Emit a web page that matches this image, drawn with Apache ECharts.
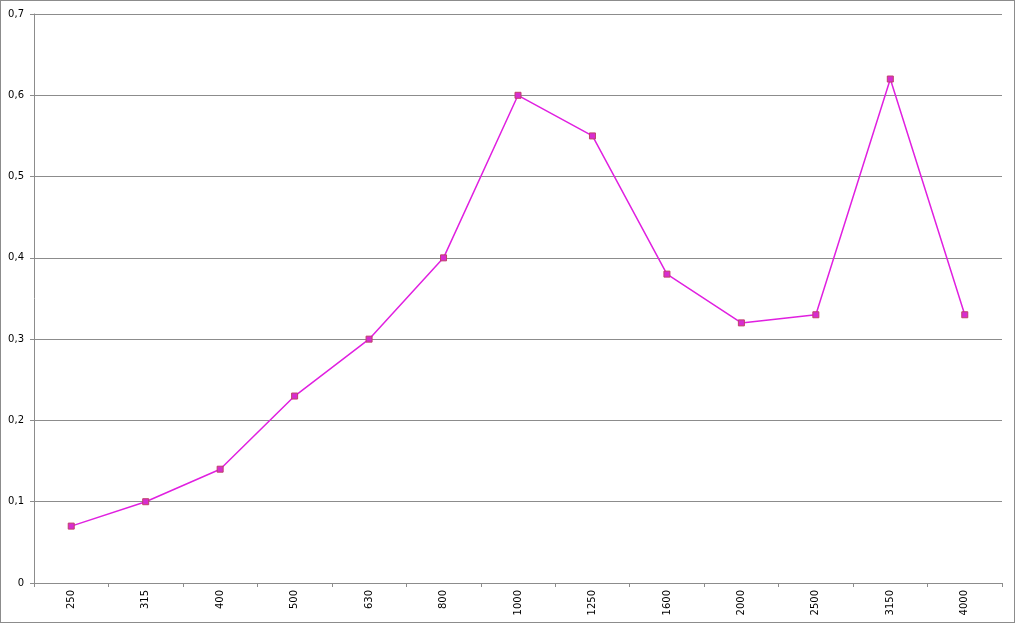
<!DOCTYPE html>
<html>
<head>
<meta charset="utf-8">
<script src="https://cdn.jsdelivr.net/npm/echarts@6/dist/echarts.min.js"></script>
<style>
html,body{margin:0;padding:0;background:#fff;}
#chart{width:1013px;height:621px;border:1px solid #8c8c8c;}
</style>
</head>
<body>
<div id="chart"></div>
<script>
const categories = ['250','315','400','500','630','800','1000','1250','1600','2000','2500','3150','4000'];
const values = [0.07, 0.10, 0.14, 0.23, 0.30, 0.40, 0.60, 0.55, 0.38, 0.32, 0.33, 0.62, 0.33];

const chart = echarts.init(document.getElementById('chart'), null, {renderer: 'canvas'});
chart.setOption({
  animation: false,
  backgroundColor: '#fff',
  grid: {left: 33, right: 12, top: 13, bottom: 39, containLabel: false},
  xAxis: {
    type: 'category',
    data: categories,
    boundaryGap: true,
    axisLine: {lineStyle: {color: '#8c8c8c', width: 1}},
    axisTick: {show: true, length: 4, lineStyle: {color: '#8c8c8c'}},
    axisLabel: {rotate: 90, color: '#000', fontFamily: 'DejaVu Sans', fontSize: 10, margin: 7}
  },
  yAxis: {
    type: 'value',
    min: 0, max: 0.7, interval: 0.1,
    axisLine: {show: true, lineStyle: {color: '#8c8c8c', width: 1}},
    axisTick: {show: true, length: 4, lineStyle: {color: '#8c8c8c'}},
    splitLine: {lineStyle: {color: '#8c8c8c', width: 1}},
    axisLabel: {
      color: '#000', fontFamily: 'DejaVu Sans', fontSize: 10, margin: 10,
      formatter: v => v === 0 ? '0' : String(Math.round(v*10)/10).replace('.', ',')
    }
  },
  series: [{
    type: 'line',
    data: values,
    symbol: 'rect',
    symbolSize: 6,
    lineStyle: {color: '#e020e0', width: 1.5},
    itemStyle: {color: '#d82cd0', borderColor: '#c0406a', borderWidth: 1}
  }]
});
</script>
</body>
</html>
